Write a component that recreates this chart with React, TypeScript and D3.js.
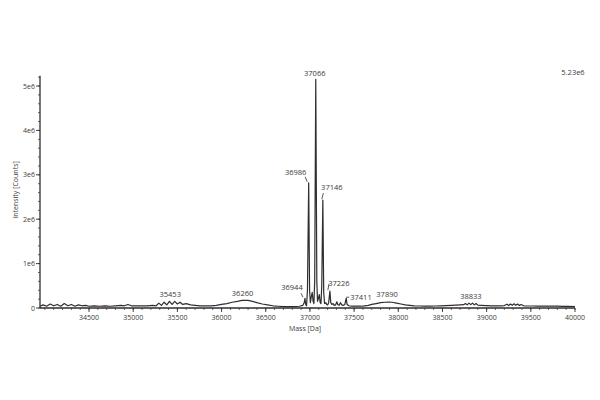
import React from "react";
import * as d3 from "d3";

// Spectrum profile: mass (Da) and intensity (millions of counts)
const masses = [
  33945, 33980, 34020, 34060, 34100, 34140, 34180, 34220, 34260, 34300, 34340, 34380, 34420, 34460, 34500,
  34560, 34620, 34680, 34740, 34800, 34860, 34900, 34940, 34980, 35040, 35100, 35160, 35220, 35260, 35290,
  35320, 35350, 35380, 35410, 35440, 35470, 35500, 35530, 35560, 35600, 35650, 35700, 35760, 35820, 35880,
  35940, 36000, 36060, 36120, 36180, 36230, 36260, 36300, 36350, 36400, 36460, 36520, 36580, 36640, 36700,
  36760, 36820, 36880, 36920, 36935, 36944, 36952, 36962, 36972, 36986, 36996, 37005, 37015, 37026, 37036,
  37045, 37054, 37066, 37078, 37086, 37096, 37106, 37116, 37125, 37134, 37146, 37156, 37166, 37180, 37190,
  37200, 37212, 37226, 37236, 37248, 37262, 37275, 37290, 37305, 37315, 37330, 37345, 37360, 37380, 37395,
  37411, 37420, 37440, 37470, 37500, 37540, 37580, 37620, 37660, 37700, 37750, 37800, 37850, 37890, 37930,
  37980, 38030, 38080, 38130, 38180, 38240, 38300, 38360, 38420, 38480, 38540, 38600, 38650, 38700, 38740,
  38760, 38780, 38800, 38820, 38840, 38860, 38880, 38900, 38940, 38990, 39050, 39100, 39150, 39200, 39230,
  39250, 39270, 39290, 39310, 39330, 39350, 39370, 39390, 39420, 39470, 39520, 39570, 39620, 39680, 39740,
  39800, 39860, 39920, 40000,
];
const intensities = [
  0.04, 0.07, 0.04, 0.09, 0.05, 0.08, 0.04, 0.1, 0.05, 0.08, 0.04, 0.07, 0.05, 0.06, 0.04,
  0.05, 0.04, 0.05, 0.04, 0.05, 0.06, 0.05, 0.08, 0.05, 0.05, 0.05, 0.05, 0.06, 0.05, 0.11,
  0.06, 0.13, 0.07, 0.15, 0.08, 0.15, 0.09, 0.13, 0.08, 0.1, 0.07, 0.06, 0.05, 0.05, 0.05,
  0.06, 0.08, 0.1, 0.13, 0.15, 0.17, 0.175, 0.17, 0.15, 0.12, 0.09, 0.07, 0.05, 0.04, 0.03,
  0.03, 0.03, 0.04, 0.06, 0.12, 0.22, 0.08, 0.05, 0.4, 2.82, 0.4, 0.12, 0.25, 0.35, 0.15,
  0.1, 0.6, 5.15, 0.6, 0.15, 0.22, 0.3, 0.12, 0.1, 0.5, 2.43, 0.35, 0.1, 0.12, 0.08,
  0.07, 0.12, 0.38, 0.12, 0.08, 0.1, 0.06, 0.07, 0.14, 0.08, 0.06, 0.12, 0.07, 0.06, 0.08,
  0.22, 0.08, 0.05, 0.04, 0.04, 0.04, 0.04, 0.05, 0.06, 0.08, 0.1, 0.12, 0.13, 0.135, 0.13,
  0.11, 0.09, 0.07, 0.06, 0.05, 0.045, 0.04, 0.04, 0.045, 0.05, 0.055, 0.06, 0.065, 0.07, 0.075,
  0.1, 0.07, 0.11, 0.075, 0.11, 0.07, 0.1, 0.065, 0.06, 0.055, 0.05, 0.05, 0.05, 0.055, 0.085,
  0.055, 0.09, 0.06, 0.095, 0.06, 0.09, 0.055, 0.08, 0.05, 0.045, 0.045, 0.04, 0.045, 0.04, 0.045,
  0.04, 0.035, 0.035, 0.03,
];

// Annotated peaks
const peakLabels = [35453, 36260, 36944, 36986, 37066, 37146, 37226, 37411, 37890, 38833];

const xTicks = [34500, 35000, 35500, 36000, 36500, 37000, 37500, 38000, 38500, 39000, 39500, 40000];
const yTicks = [0, 1, 2, 3, 4, 5];
const yTickLabels = ["0", "1e6", "2e6", "3e6", "4e6", "5e6"];
const maxLabel = "5.23e6";
const xTitle = "Mass [Da]";
const yTitle = "Intensity [Counts]";

const FONT = "'Open Sans', 'DejaVu Sans', sans-serif";
const TEXT = "#3a3a3a";
const LINE = "#2e2e2e";

// label placement relative to the peak apex: dx, dy, anchor, optional leader line
const labelLayout: Record<number, { dx: number; dy: number; anchor?: string; leader?: number[] }> = {
  35453: { dx: -3, dy: -4 },
  36260: { dx: -2, dy: -4.5 },
  36944: { dx: -13, dy: -8, leader: [-4, -5, -2, -1] },
  36986: { dx: -13, dy: -8, leader: [-3.5, -6, -1.5, -1] },
  37066: { dx: -1, dy: -3 },
  37146: { dx: 9, dy: -10, leader: [0.5, -7, -1, -1] },
  37226: { dx: 9, dy: -5, leader: [-1, -7, -2, -1] },
  37411: { dx: 4, dy: 1.5, anchor: "start", leader: [0, -1, 3, -1] },
  37890: { dx: -1.5, dy: -5 },
  38833: { dx: -1, dy: -4 },
};

export default function App() {
  const W = 600, H = 400;
  const x = d3.scaleLinear().domain([33945, 40000]).range([40, 575]);
  const y = d3.scaleLinear().domain([0, 5.23]).range([308, 75.8]);

  const pts = masses.map((m, i) => [m, intensities[i]] as [number, number]);
  const path = d3
    .line<[number, number]>()
    .x((d) => x(d[0]))
    .y((d) => y(d[1]))(pts) as string;

  const xMinor = d3.range(34000, 40001, 100);
  const yMinor = d3.range(0, 5.21, 0.2);

  const valueAt = (m: number) => {
    const i = masses.indexOf(m);
    if (i >= 0) return intensities[i];
    let best = 0;
    masses.forEach((mm, j) => {
      if (Math.abs(mm - m) <= 60 && intensities[j] > best) best = intensities[j];
    });
    return best;
  };

  return (
    <svg width={W} height={H} style={{ position: "absolute", left: 0, top: 0, background: "#fff" }}>
      <rect width={W} height={H} fill="#fff" />
      {/* spectrum */}
      <path d={path} fill="none" stroke={LINE} strokeWidth={1.2} strokeLinejoin="round" />

      {/* x axis */}
      <line x1={40} x2={575} y1={308} y2={308} stroke={LINE} strokeWidth={1.3} />
      {xMinor.map((v) => (
        <line key={"xm" + v} x1={x(v)} x2={x(v)} y1={308} y2={310} stroke={LINE} strokeWidth={0.7} />
      ))}
      {xTicks.map((v) => (
        <g key={"xt" + v}>
          <line x1={x(v)} x2={x(v)} y1={308} y2={312} stroke={LINE} strokeWidth={0.9} />
          <text x={x(v)} y={320} fontSize={7} fontFamily={FONT} fill={TEXT} textAnchor="middle">
            {v}
          </text>
        </g>
      ))}
      <text x={305} y={331} fontSize={7} fontFamily={FONT} fill={TEXT} textAnchor="middle">
        {xTitle}
      </text>

      {/* y axis */}
      <line x1={40} x2={40} y1={75.8} y2={308} stroke={LINE} strokeWidth={1.3} />
      {yMinor.map((v) => (
        <line key={"ym" + v} x1={38} x2={40} y1={y(v)} y2={y(v)} stroke={LINE} strokeWidth={0.7} />
      ))}
      {yTicks.map((v, i) => (
        <g key={"yt" + v}>
          <line x1={36} x2={40} y1={y(v)} y2={y(v)} stroke={LINE} strokeWidth={0.9} />
          <text x={35} y={y(v) + 2.5} fontSize={7} fontFamily={FONT} fill={TEXT} textAnchor="end">
            {yTickLabels[i]}
          </text>
        </g>
      ))}
      <text
        transform={`translate(18,190) rotate(-90)`}
        fontSize={7}
        fontFamily={FONT}
        fill={TEXT}
        textAnchor="middle"
      >
        {yTitle}
      </text>

      <text x={573} y={75} fontSize={7.5} fontFamily={FONT} fill={TEXT} textAnchor="middle">
        {maxLabel}
      </text>

      {/* peak annotations */}
      {peakLabels.map((m) => {
        const L = labelLayout[m];
        const px = x(m);
        const py = y(valueAt(m));
        return (
          <g key={"pl" + m}>
            {L.leader && (
              <line
                x1={px + L.leader[0]}
                y1={py + L.leader[1]}
                x2={px + L.leader[2]}
                y2={py + L.leader[3]}
                stroke={LINE}
                strokeWidth={0.8}
              />
            )}
            <text
              x={px + L.dx}
              y={py + L.dy}
              fontSize={7.5}
              fontFamily={FONT}
              fill={TEXT}
              textAnchor={L.anchor || "middle"}
            >
              {m}
            </text>
          </g>
        );
      })}
    </svg>
  );
}
